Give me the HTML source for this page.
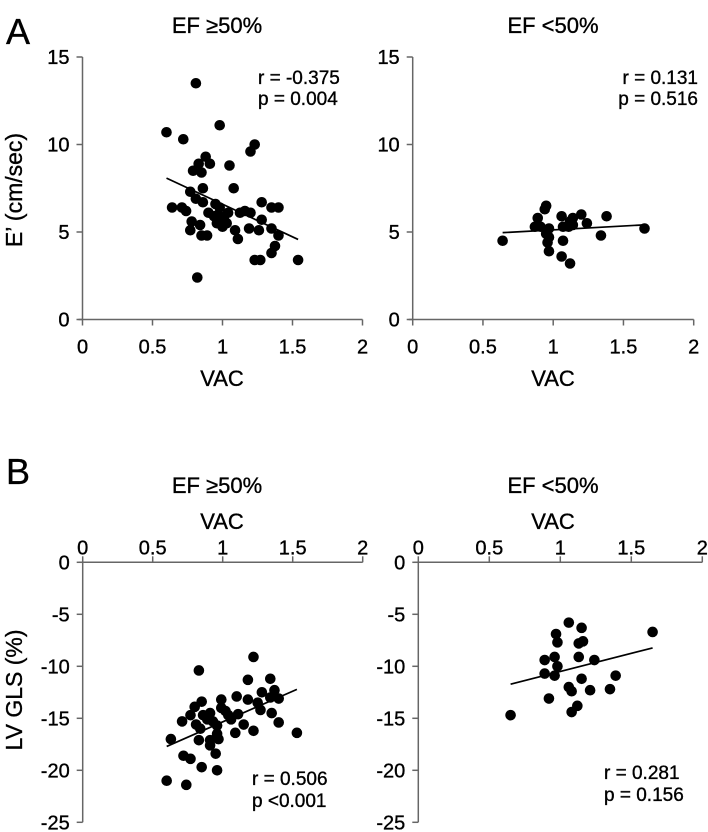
<!DOCTYPE html>
<html><head><meta charset="utf-8"><style>
body{margin:0;background:#fff;}
svg{display:block;font-family:"Liberation Sans",Arial,sans-serif;}
svg text{stroke:#000;stroke-width:0.35px;}
</style></head><body>
<svg id="fig" width="708" height="832" viewBox="0 0 708 832" xmlns="http://www.w3.org/2000/svg">
<text x="6" y="44" font-size="36">A</text>
<text x="6" y="484" font-size="36">B</text>
<text x="217" y="33" font-size="22" text-anchor="middle">EF ≥50%</text>
<text x="553" y="33" font-size="22" text-anchor="middle">EF &lt;50%</text>
<text x="217" y="493" font-size="22" text-anchor="middle">EF ≥50%</text>
<text x="553" y="493" font-size="22" text-anchor="middle">EF &lt;50%</text>
<text x="222" y="386" font-size="22" text-anchor="middle">VAC</text>
<text x="553" y="386" font-size="22" text-anchor="middle">VAC</text>
<text x="222" y="529" font-size="22" text-anchor="middle">VAC</text>
<text x="553" y="529" font-size="22" text-anchor="middle">VAC</text>
<text transform="translate(22,190) rotate(-90)" font-size="23" text-anchor="middle">E’ (cm/sec)</text>
<text transform="translate(22,690) rotate(-90)" font-size="23" text-anchor="middle">LV GLS (%)</text>
<text x="258" y="84" font-size="19">r = -0.375</text>
<text x="258" y="105" font-size="19">p = 0.004</text>
<text x="698" y="84" font-size="19" text-anchor="end">r = 0.131</text>
<text x="698" y="105" font-size="19" text-anchor="end">p = 0.516</text>
<text x="252" y="785" font-size="19">r = 0.506</text>
<text x="252" y="807" font-size="19">p &lt;0.001</text>
<text x="604" y="779" font-size="19">r = 0.281</text>
<text x="604" y="801" font-size="19">p = 0.156</text>
</svg>
<script>
const xTicks=[0,0.5,1,1.5,2];
const xTickLabels=["0","0.5","1","1.5","2"];
const aYTicks=[0,5,10,15];
const aYTickLabels=["0","5","10","15"];
const bYTicks=[0,-5,-10,-15,-20,-25];
const bYTickLabels=["0","-5","-10","-15","-20","-25"];
const a1X=[0.81,0.60,0.72,0.98,1.23,1.20,0.88,0.83,0.79,0.91,0.85,1.05,1.08,0.86,0.77,0.81,0.86,0.64,0.71,0.74,0.95,0.98,0.90,0.94,0.97,1.01,1.04,0.96,1.00,1.03,1.125,1.16,1.20,1.28,1.35,1.40,1.28,0.78,0.84,0.77,0.85,0.89,1.09,1.11,1.19,1.26,1.35,1.40,1.375,1.35,1.23,1.27,1.54,0.82];
const a1Y=[13.5,10.7,10.3,11.1,10.0,9.6,9.3,8.9,8.5,8.9,8.4,8.8,7.5,7.5,7.3,6.9,6.7,6.4,6.4,6.2,6.6,6.4,6.1,5.9,6.0,5.8,6.1,5.5,5.3,5.5,6.1,6.2,6.1,6.7,6.4,6.4,5.7,5.6,5.4,5.1,4.8,4.8,5.1,4.6,5.2,5.1,5.2,4.8,4.2,3.8,3.4,3.4,3.4,2.4];
const a2X=[0.64,0.95,0.94,0.89,0.87,0.91,0.97,0.95,0.97,0.96,0.97,1.06,1.07,1.11,1.14,1.14,1.12,1.20,1.24,1.07,1.06,1.12,1.34,1.38,1.65];
const a2Y=[4.5,6.5,6.3,5.8,5.3,5.3,5.2,4.9,4.7,4.4,3.9,5.9,5.3,5.3,5.4,5.8,5.6,6.0,5.5,4.5,3.6,3.2,4.8,5.9,5.2];
const b1X=[1.22,0.83,1.18,1.34,1.28,1.37,1.34,1.40,1.10,1.18,0.99,1.25,1.27,1.35,1.40,1.53,0.85,0.80,0.99,1.02,1.04,1.11,0.91,0.86,0.93,0.89,0.77,0.71,0.81,0.84,0.96,1.06,1.15,1.09,1.22,0.96,0.97,0.91,0.91,0.83,0.63,0.72,0.77,0.95,0.85,0.96,0.60,0.74];
const b1Y=[-9.1,-10.4,-11.3,-11.2,-12.5,-12.3,-13.0,-13.1,-12.9,-13.2,-13.2,-13.5,-14.2,-14.5,-15.4,-16.4,-13.4,-13.9,-14.0,-14.3,-14.7,-14.6,-14.5,-14.7,-15.3,-15.1,-14.7,-15.3,-15.6,-16.0,-15.7,-15.1,-15.6,-16.4,-16.2,-16.5,-17.0,-17.1,-17.6,-17.1,-17.0,-18.6,-18.9,-18.4,-19.7,-20.0,-21.0,-21.4];
const b2X=[0.65,1.06,1.15,0.97,0.98,1.13,1.16,1.65,0.89,0.96,1.13,1.24,0.98,0.89,0.96,1.15,1.39,1.06,1.08,1.21,1.35,0.92,1.12,1.08];
const b2Y=[-14.7,-5.8,-6.3,-6.9,-7.7,-7.8,-7.6,-6.7,-9.4,-9.1,-9.1,-9.4,-10.0,-10.7,-10.9,-11.2,-10.9,-12.0,-12.4,-12.3,-12.2,-13.1,-13.8,-14.4];

const svg=document.getElementById('fig');
const NS='http://www.w3.org/2000/svg';
function mk(tag,attrs){const e=document.createElementNS(NS,tag);for(const k in attrs)e.setAttribute(k,attrs[k]);svg.appendChild(e);return e;}
function fit(xs,ys){const n=xs.length;let mx=0,my=0;for(let i=0;i<n;i++){mx+=xs[i];my+=ys[i];}mx/=n;my/=n;let sxy=0,sxx=0;for(let i=0;i<n;i++){sxy+=(xs[i]-mx)*(ys[i]-my);sxx+=(xs[i]-mx)**2;}const b=sxy/sxx;return [my-b*mx,b];}

function panel(p,cfg){
  const sx=v=>cfg.x0+cfg.xs*v, sy=v=>cfg.y0-cfg.ys*v;
  const axisColor='#666';
  let e=mk('line',{x1:sx(0)-4,x2:sx(2),y1:cfg.y0,y2:cfg.y0,stroke:axisColor,'stroke-width':1.5});
  
  
  xTicks.forEach((t,i)=>{
    const d=cfg.top?-6:6;
    const tk=mk('line',{x1:sx(t),x2:sx(t),y1:cfg.y0,y2:cfg.y0+d,stroke:axisColor,'stroke-width':1.5});
    
    
    const lb=mk('text',{x:sx(t),y:cfg.top?cfg.y0-8:cfg.y0+34,'font-size':20,'text-anchor':'middle'});
    lb.textContent=xTickLabels[i];
    
    
  });
  const yt=cfg.yTicks, ytl=cfg.yTickLabels;
  const ymin=Math.min(...yt), ymax=Math.max(...yt);
  e=mk('line',{x1:cfg.x0,x2:cfg.x0,y1:sy(ymin),y2:sy(ymax),stroke:axisColor,'stroke-width':1.5});
  
  
  yt.forEach((t,i)=>{
    const tk=mk('line',{x1:cfg.x0-6,x2:cfg.x0,y1:sy(t),y2:sy(t),stroke:axisColor,'stroke-width':1.5});
    
    
    const lb=mk('text',{x:cfg.x0-13,y:sy(t)+7,'font-size':20,'text-anchor':'end'});
    lb.textContent=ytl[i];
    
    
  });
  cfg.X.forEach((v,i)=>{
    const c=mk('circle',{cx:sx(v),cy:sy(cfg.Y[i]),r:5.3,fill:'#000'});
    
    
  });
  const [a,b]=fit(cfg.X,cfg.Y);
  const lo=Math.min(...cfg.X), hi=Math.max(...cfg.X);
  const l=mk('line',{x1:sx(lo),y1:sy(a+b*lo),x2:sx(hi),y2:sy(a+b*hi),stroke:'#000','stroke-width':1.7});
  
  
}
panel('a1',{x0:82.5,xs:140,y0:319.5,ys:17.5,yTicks:aYTicks,yTickLabels:aYTickLabels,X:a1X,Y:a1Y,top:false});
panel('a2',{x0:412.7,xs:140.5,y0:319.5,ys:17.5,yTicks:aYTicks,yTickLabels:aYTickLabels,X:a2X,Y:a2Y,top:false});
panel('b1',{x0:82.7,xs:140,y0:562.3,ys:10.4,yTicks:bYTicks,yTickLabels:bYTickLabels,X:b1X,Y:b1Y,top:true});
panel('b2',{x0:418.3,xs:142,y0:562.3,ys:10.4,yTicks:bYTicks,yTickLabels:bYTickLabels,X:b2X,Y:b2Y,top:true});
</script>
</body></html>
